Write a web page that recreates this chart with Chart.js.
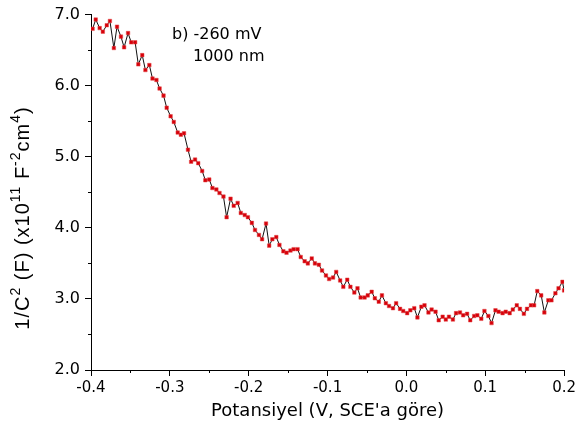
<!DOCTYPE html>
<html>
<head>
<meta charset="utf-8">
<script src="https://cdn.jsdelivr.net/npm/chart.js@4"></script>
<style>
  html, body { margin: 0; padding: 0; background: #fff; }
  #c { display: block; }
</style>
</head>
<body>
<canvas id="c" width="579" height="434"></canvas>
<script>
// 전위 (V, SCE 기준)
const potential = [
  -0.398, -0.394, -0.389, -0.385, -0.380, -0.376, -0.371, -0.367, -0.362, -0.358,
  -0.353, -0.349, -0.344, -0.340, -0.335, -0.331, -0.326, -0.322, -0.317, -0.313,
  -0.308, -0.304, -0.299, -0.295, -0.290, -0.286, -0.282, -0.277, -0.273, -0.268,
  -0.264, -0.259, -0.255, -0.250, -0.246, -0.241, -0.237, -0.232, -0.228, -0.223,
  -0.219, -0.214, -0.210, -0.205, -0.201, -0.196, -0.192, -0.187, -0.183, -0.178,
  -0.174, -0.170, -0.165, -0.161, -0.156, -0.152, -0.147, -0.143, -0.138, -0.134,
  -0.129, -0.125, -0.120, -0.116, -0.111, -0.107, -0.102, -0.098, -0.093, -0.089,
  -0.084, -0.080, -0.075, -0.071, -0.066, -0.062, -0.058, -0.053, -0.049, -0.044,
  -0.040, -0.035, -0.031, -0.026, -0.022, -0.017, -0.013, -0.008, -0.004, 0.001,
  0.005, 0.010, 0.014, 0.019, 0.023, 0.028, 0.032, 0.037, 0.041, 0.046,
  0.050, 0.054, 0.059, 0.063, 0.068, 0.072, 0.077, 0.081, 0.086, 0.090,
  0.095, 0.099, 0.104, 0.108, 0.113, 0.117, 0.122, 0.126, 0.131, 0.135,
  0.140, 0.144, 0.149, 0.153, 0.158, 0.162, 0.166, 0.171, 0.175, 0.180,
  0.184, 0.189, 0.193, 0.198, 0.200
];
// 1/C^2 (x10^11 F^-2 cm^4)
const invC2 = [
  6.80, 6.93, 6.81, 6.76, 6.85, 6.91, 6.53, 6.83, 6.69, 6.54,
  6.74, 6.61, 6.61, 6.30, 6.43, 6.22, 6.29, 6.10, 6.08, 5.96,
  5.86, 5.69, 5.57, 5.49, 5.34, 5.31, 5.33, 5.10, 4.93, 4.96,
  4.91, 4.80, 4.67, 4.68, 4.56, 4.54, 4.49, 4.44, 4.15, 4.41,
  4.31, 4.35, 4.21, 4.18, 4.15, 4.07, 3.97, 3.90, 3.84, 4.06,
  3.75, 3.84, 3.87, 3.76, 3.67, 3.65, 3.68, 3.70, 3.70, 3.59,
  3.53, 3.50, 3.57, 3.50, 3.48, 3.40, 3.33, 3.28, 3.30, 3.38,
  3.26, 3.17, 3.27, 3.17, 3.09, 3.15, 3.02, 3.02, 3.05, 3.10,
  3.01, 2.96, 3.05, 2.94, 2.90, 2.87, 2.94, 2.86, 2.83, 2.80,
  2.84, 2.87, 2.74, 2.89, 2.91, 2.81, 2.85, 2.82, 2.70, 2.75,
  2.71, 2.75, 2.71, 2.80, 2.81, 2.77, 2.79, 2.70, 2.76, 2.77,
  2.72, 2.83, 2.76, 2.66, 2.84, 2.82, 2.80, 2.82, 2.80, 2.85,
  2.91, 2.86, 2.79, 2.86, 2.91, 2.91, 3.11, 3.05, 2.81, 2.98,
  2.98, 3.08, 3.15, 3.24, 3.12
];

// 눈금
const xTicks = [-0.4, -0.3, -0.2, -0.1, 0.0, 0.1, 0.2];
const xMinor = [-0.35, -0.25, -0.15, -0.05, 0.05, 0.15];
const yTicks = [2, 3, 4, 5, 6, 7];
const yMinor = [2.5, 3.5, 4.5, 5.5, 6.5];

// 라벨
const xTitle = "Potansiyel (V, SCE'a göre)";
const note = ["b) -260 mV", "1000 nm"];
// y축 제목 조각: [텍스트, 위첨자 여부]
const yTitleParts = [["1/C", false], ["2", true], [" (F) (x10", false], ["11", true],
                     [" F", false], ["-2", true], ["cm", false], ["4", true], [")", false]];

const FONT = '"DejaVu Sans", Arial, sans-serif';
const YFONT = '"Liberation Sans", Arial, sans-serif';

const points = potential.map((x, i) => ({ x: x, y: invC2[i] }));

// 보조 눈금, 주석, y축 제목 그리기
const extras = {
  id: 'extras',
  afterDraw(chart) {
    const ctx = chart.ctx, xs = chart.scales.x, ys = chart.scales.y;
    const area = chart.chartArea;
    ctx.save();
    ctx.strokeStyle = '#000';
    ctx.lineWidth = 1;
    ctx.beginPath();
    xMinor.forEach(v => {
      const px = Math.round(xs.getPixelForValue(v)) + 0.5;
      ctx.moveTo(px, area.bottom);
      ctx.lineTo(px, area.bottom + 3);
    });
    yMinor.forEach(v => {
      const py = Math.round(ys.getPixelForValue(v)) + 0.5;
      ctx.moveTo(area.left, py);
      ctx.lineTo(area.left - 3, py);
    });
    ctx.stroke();

    // 주석
    ctx.fillStyle = '#000';
    ctx.font = '16px ' + FONT;
    ctx.textBaseline = 'middle';
    ctx.textAlign = 'left';
    ctx.fillText(note[0], area.left + 81, area.top + 20);
    ctx.fillText(note[1], area.left + 102, area.top + 42);

    // y축 제목 (위첨자 포함)
    const big = '20px ' + YFONT, small = '14px ' + YFONT;
    ctx.letterSpacing = '1px';
    let total = 0;
    yTitleParts.forEach(p => { ctx.font = p[1] ? small : big; total += ctx.measureText(p[0]).width; });
    ctx.translate(23, 218);
    ctx.rotate(-Math.PI / 2);
    ctx.textBaseline = 'middle';
    let cx = -total / 2;
    yTitleParts.forEach(p => {
      ctx.font = p[1] ? small : big;
      ctx.fillText(p[0], cx, p[1] ? -7 : 0);
      cx += ctx.measureText(p[0]).width;
    });
    ctx.restore();
  }
};

new Chart(document.getElementById('c'), {
  type: 'scatter',
  data: {
    datasets: [{
      data: points,
      showLine: true,
      borderColor: '#111',
      borderWidth: 1,
      tension: 0,
      pointStyle: 'rect',
      pointRadius: 2.5,
      pointBorderWidth: 0.5,
      pointBackgroundColor: '#d6000a',
      pointBorderColor: '#e44a4a'
    }]
  },
  options: {
    responsive: false,
    animation: false,
    layout: { padding: { top: 13, right: 14, left: 0, bottom: 0 } },
    plugins: { legend: { display: false }, tooltip: { enabled: false } },
    scales: {
      x: {
        type: 'linear',
        min: -0.4, max: 0.2,
        afterBuildTicks: s => { s.ticks = xTicks.map(v => ({ value: v })); },
        afterFit: s => { s.height = 64; },
        ticks: {
          color: '#000',
          font: { family: FONT, size: 15 },
          padding: 3,
          maxRotation: 0,
          callback: v => v.toFixed(1)
        },
        grid: { drawOnChartArea: false, tickLength: 6, color: '#000' },
        border: { color: '#000', width: 1 },
        title: {
          display: true, text: xTitle, color: '#000',
          font: { family: FONT, size: 18 },
          padding: { top: 0, bottom: 12 }
        }
      },
      y: {
        min: 2, max: 7,
        afterBuildTicks: s => { s.ticks = yTicks.map(v => ({ value: v })); },
        afterFit: s => { s.width = 91; },
        ticks: {
          color: '#000',
          font: { family: FONT, size: 16 },
          padding: 5,
          callback: v => v.toFixed(1)
        },
        grid: { drawOnChartArea: false, tickLength: 6, color: '#000' },
        border: { color: '#000', width: 1 }
      }
    }
  },
  plugins: [extras]
});
</script>
</body>
</html>
